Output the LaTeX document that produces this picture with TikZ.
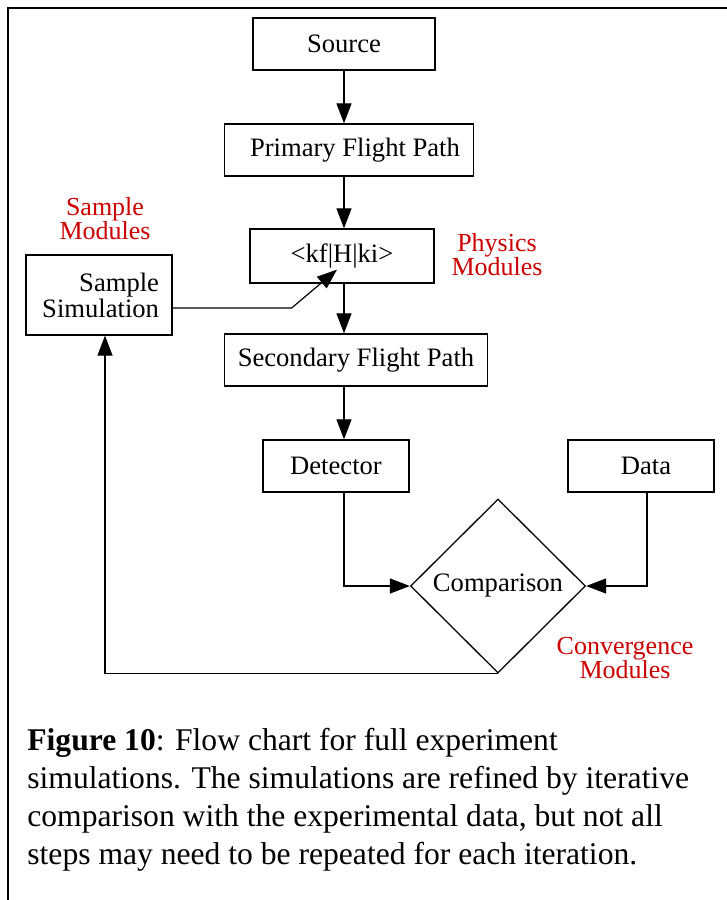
\documentclass[tikz,border=0pt]{standalone}
\usepackage{fontspec}
\setmainfont{Liberation Serif}
\usepackage{xcolor}
\usetikzlibrary{shapes.geometric,arrows.meta,positioning,calc}
\definecolor{modred}{RGB}{204,0,0}

\begin{document}
\begin{tikzpicture}[
      x=0.5pt, y=-0.5pt,
      box/.style={rectangle, draw, minimum height=26pt, align=center,
                  font=\fontsize{13.3}{13}\selectfont, inner sep=2pt, line width=0.65pt},
      decision/.style={diamond, draw, aspect=1, minimum width=87.5pt, minimum height=87pt,
                  inner sep=0pt, font=\fontsize{13.3}{13}\selectfont, line width=0.65pt},
      modtext/.style={align=center, text=modred, font=\fontsize{13}{12}\selectfont},
      arrow/.style={-{Triangle[length=10pt,width=7.5pt]}, line width=0.6pt},
    ]
    \useasboundingbox (0,0) rectangle (727,900);
    % frame
    \draw[line width=1pt] (8,900) -- (8,8) -- (727,8);

    \node[box, minimum width=91pt]    (src)  at (344,44)  {Source};
    \node[box, minimum width=124.5pt] (pfp)  at (349,150) {\hspace{6pt}Primary Flight Path};
    \node[box, minimum width=92pt, minimum height=27pt] (kf) at (342,256) {<kf|H|ki>};
    \node[box, minimum width=73pt, minimum height=40pt, align=right,
          text width=60pt, inner xsep=6.5pt] (ss) at (99,295) {Sample\\Simulation};
    \node[box, minimum width=131.5pt] (sfp)  at (356,360) {Secondary Flight Path};
    \node[box, minimum width=73pt]    (det)  at (336,466) {Detector};
    \node[box, minimum width=73pt]    (data) at (641,466) {\hspace{5pt}Data};
    \node[decision]                   (cmp)  at (498,586) {Comparison};

    \node[modtext] (smod) at (105,219) {Sample\\Modules};
    \node[modtext] (pmod) at (497,255) {Physics\\Modules};
    \node[modtext] (cmod) at (625,658) {Convergence\\Modules};

    \draw[arrow] (src.south) -- (src.south |- pfp.north);
    \draw[arrow] (pfp.south -| src.south) -- (kf.north -| src.south);
    \draw[arrow] (kf.south -| src.south) -- (sfp.north -| src.south);
    \draw[arrow] (sfp.south -| src.south) -- (det.north -| src.south);
    \draw[arrow] (det.south -| src.south) |- (cmp.west);
    \draw[arrow] ([xshift=3pt]data.south) |- (cmp.east);
    \draw[arrow] (cmp.south) -| ([xshift=3pt]ss.south);
    \draw[arrow] ([yshift=-6.5pt]ss.east) -- ++(119,0) -- ([xshift=-2.5pt,yshift=7pt]kf.south);

    \node[anchor=north west, inner sep=0pt, align=left,
          font=\fontsize{15.8}{19}\selectfont] (cap) at (27,728)
      {\textbf{Figure 10}: Flow chart for full experiment\\
       simulations. The simulations are refined by iterative\\
       comparison with the experimental data, but not all\\
       steps may need to be repeated for each iteration.};
  \end{tikzpicture}
\end{document}
